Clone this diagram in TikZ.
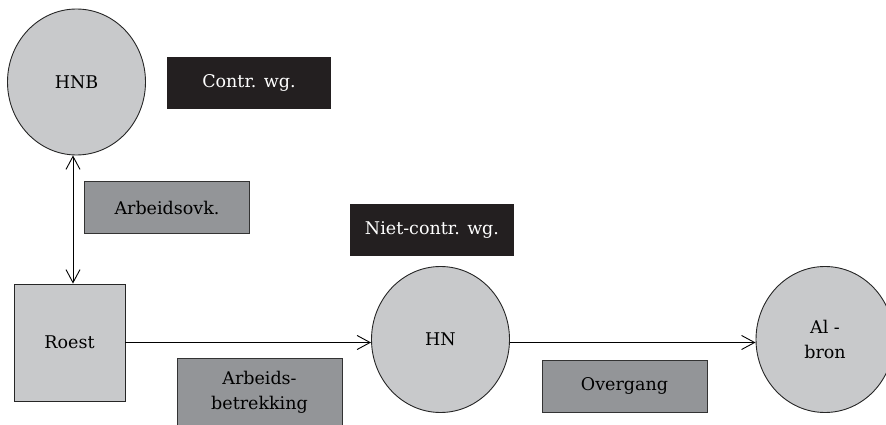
\documentclass[tikz,border=0pt]{standalone}
\usepackage{fontspec}
\setmainfont{DejaVu Serif}
\usepackage{tikz}
\usetikzlibrary{arrows.meta,positioning,shapes.geometric,calc}

\definecolor{partgray}{RGB}{200,201,203}
\definecolor{actgray}{RGB}{147,149,152}
\definecolor{wgblack}{RGB}{35,31,32}

\begin{document}
\begin{tikzpicture}[x=1pt,y=-1pt,
    font=\fontsize{17.5}{25}\selectfont,
    line width=0.9pt,
    >={Straight Barb[length=13pt,width=14pt,line width=0.9pt]},
    party/.style={ellipse,draw=black!85,fill=partgray,inner sep=0pt,minimum width=138pt,minimum height=146pt},
    relbox/.style={rectangle,draw=black!80,fill=actgray,inner sep=0pt,minimum width=165pt,minimum height=52pt,align=center},
    wgbox/.style={rectangle,fill=wgblack,text=white,inner sep=0pt,minimum width=164pt,minimum height=52pt}]
    \clip (0,0) rectangle (886,425);

    % Parties
    \node[party] (hnb) at (76.5,82) {HNB};
    \node[rectangle,draw=black!85,fill=partgray,inner sep=0pt,minimum width=111pt,minimum height=117pt] (roest) at (69.5,342.5) {Roest};
    \node[party] (hn) at (440.5,339.5) {HN};
    \node[party,align=center] (albron) at (825,339.5) {Al -\\bron};

    % Employer labels
    \node[wgbox] (contr) at (249,83) {Contr. wg.};
    \node[wgbox] (nietcontr) at (432,230) {Niet-contr. wg.};

    % Relations
    \node[relbox] (arbovk) at (167,207.5) {Arbeidsovk.};
    \node[relbox,minimum height=68pt] (arbbetr) at (259.5,392) {Arbeids-\\betrekking};
    \node[relbox] (overgang) at (624.5,386) {Overgang};

    % Connectors
    \draw[<->] ([xshift=-3.5pt]hnb.south) -- ([xshift=3.5pt]roest.north);
    \draw[->] (roest.east) -- (roest.east -| hn.west);
    \draw[->] (hn.east |- roest.east) -- (roest.east -| albron.west);
\end{tikzpicture}
\end{document}
